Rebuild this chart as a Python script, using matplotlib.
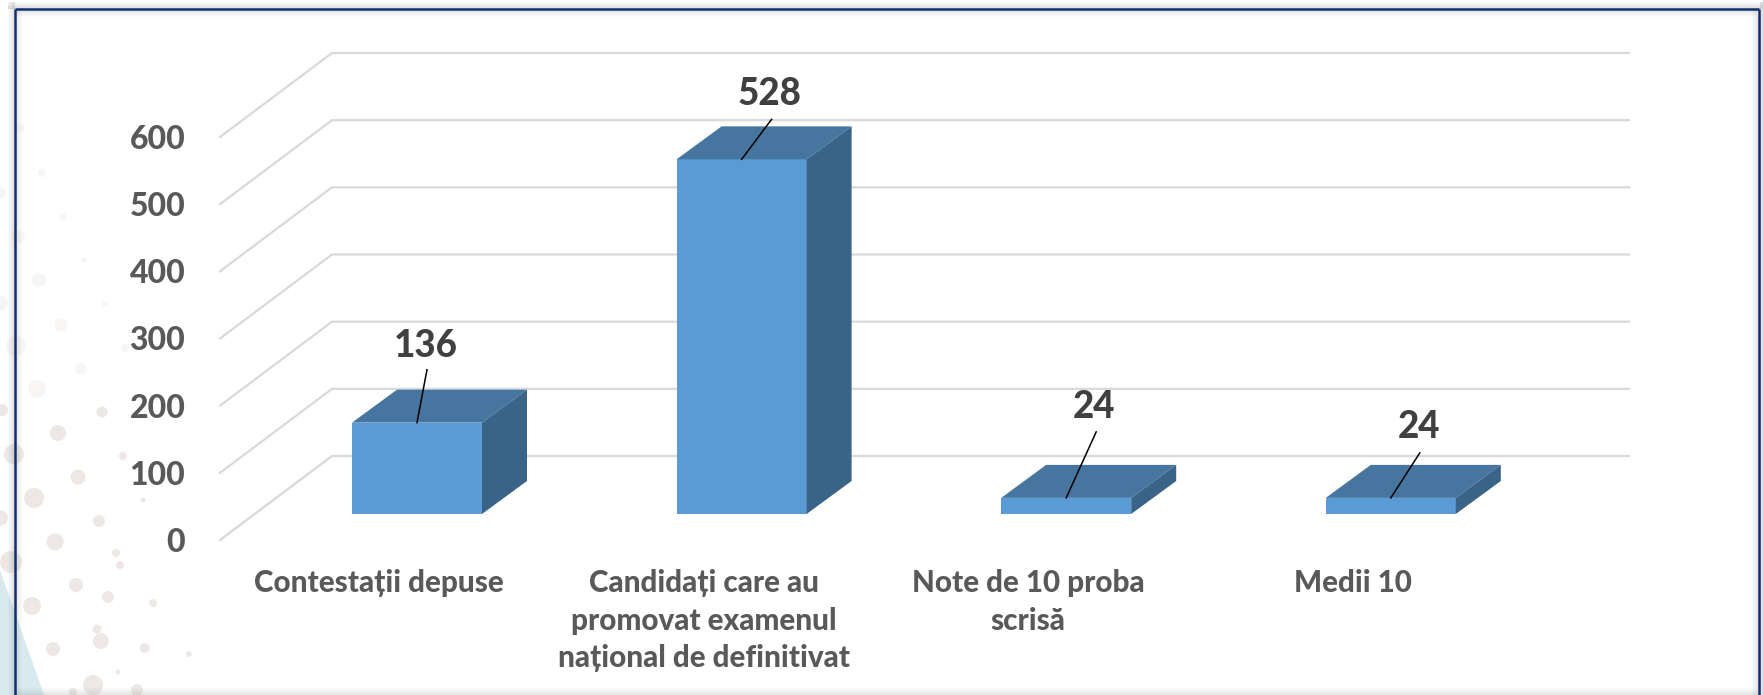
import matplotlib
matplotlib.use("Agg")
import matplotlib.pyplot as plt
from matplotlib.patches import Polygon, Rectangle, Circle

plt.rcParams['font.family'] = ['Lato', 'Noto Sans', 'DejaVu Sans']

categories = ["Contestații depuse",
              "Candidați care au\npromovat examenul\nnațional de definitivat",
              "Note de 10 proba\nscrisă",
              "Medii 10"]
values = [136, 528, 24, 24]
value_labels = ["136", "528", "24", "24"]
y_ticks = [0, 100, 200, 300, 400, 500, 600]

# style / geometry (pixels)
W, H = 1763, 695
AX_L, AX_R, AX_B, AX_T = 220, 1629, 540, 137
CAT0, CAT_STEP = 379, 324.6
PX_X = CAT_STEP
PX_Y = (AX_B - AX_T) / 600
WALL = (112, 84)
BAR_FRONT = (38, 26)
BAR_W = 130
BAR_D = (45, 33)
label_off = [(9, 77), (28, 65), (28, 91), (28, 71)]
leader_off = [(10, 53), (30, 40), (30, 66), (29, 45)]
FRONT, TOP, SIDE = '#5B9BD5', '#46769F', '#3A6487'
WEIGHT = 900

fig = plt.figure(figsize=(W / 100, H / 100), dpi=100, facecolor='white')

# background decoration, in pixels
bg = fig.add_axes([0, 0, 1, 1], zorder=0)
bg.set_xlim(0, W); bg.set_ylim(H, 0); bg.axis('off')
dots = [(21,128,4),(42,173,4),(63,217,3.5),(84,260,3),(105,304,3),(39,280,7),(61,325,6.5),
        (81,369,6),(37,389,9),(16,346,10),(18,237,7),(125,348,4),(0,303,8),(0,193,6),
        (102,412,5.5),(58,433,8),(14,454,10),(123,456,4),(78,477,7.5),(34,498,10),
        (143,500,2.5),(99,521,6),(0,518,8),(55,542,8.5),(116,553,4),(120,565,4),(11,562,11),
        (76,585,7),(108,597,6),(153,603,4),(32,606,9),(97,629,4.5),(101,641,8),(53,649,7),
        (145,648,5),(189,654,3),(118,672,2.5),(93,685,10),(137,690,6),(73,692,4),(2,410,6)]
bg.add_patch(Polygon([(0, 570), (44, 695), (0, 695)], fc='#D8EAEF', ec='none'))
for x, y, r in dots:
    a = 0.25 if y < 400 else 0.65
    bg.add_patch(Circle((x, y), r, fc='#E4DDDA', ec='none', alpha=a))
# shadow around frame
for i in range(7):
    a = 0.20 * (1 - i / 7)
    c = '#808080'
    bg.add_patch(Rectangle((15 + i, 9), 1, H, fc=c, ec='none', alpha=a))
    bg.add_patch(Rectangle((15, 10 + i), W - 21, 1, fc=c, ec='none', alpha=a))
    bg.add_patch(Rectangle((1758 - i, 9), 1, H, fc=c, ec='none', alpha=a))
    bg.add_patch(Rectangle((14 - i, 2), 1, H, fc=c, ec='none', alpha=a * 1.3))
    bg.add_patch(Rectangle((8, 8 - i), W - 8, 1, fc=c, ec='none', alpha=a * 1.3))
    bg.add_patch(Rectangle((1760 + i, 2), 1, H, fc=c, ec='none', alpha=a * 1.3))
    bg.add_patch(Rectangle((16, H - i - 1), 1742, 1, fc=c, ec='none', alpha=a))
bg.plot([15, 15], [9, H], color='#12306F', lw=1.8, solid_capstyle='butt')
bg.plot([15, 1759], [9, 9], color='#12306F', lw=1.8, solid_capstyle='butt')
bg.plot([1759, 1759], [9, H], color='#12306F', lw=1.8, solid_capstyle='butt')

# chart axes: the front floor plane; depth is added as a fixed oblique offset
ax = fig.add_axes([AX_L / W, 1 - AX_B / H, (AX_R - AX_L) / W, (AX_B - AX_T) / H], zorder=1)
ax.patch.set_alpha(0)
ax.set_xlim((AX_L - CAT0) / PX_X, (AX_R - CAT0) / PX_X)
ax.set_ylim(0, 600)
for s in ax.spines.values():
    s.set_visible(False)

def dx(px): return px / PX_X
def dy(px): return px / PX_Y

x_left = ax.get_xlim()[0]
x_right = ax.get_xlim()[1]
for v in y_ticks:
    ax.plot([x_left, x_left + dx(WALL[0]), x_right], [v, v + dy(WALL[1]), v + dy(WALL[1])],
            color='#D9D9D9', lw=1.6, clip_on=False, zorder=1, solid_joinstyle='miter')

for i, v in enumerate(values):
    x0 = i + dx(BAR_FRONT[0] - BAR_W / 2)
    x1 = x0 + dx(BAR_W)
    b = dy(BAR_FRONT[1])
    t = b + v
    ddx, ddy = dx(BAR_D[0]), dy(BAR_D[1])
    ax.add_patch(Polygon([(x0, b), (x1, b), (x1, t), (x0, t)], fc=FRONT, ec='none', zorder=3, clip_on=False))
    ax.add_patch(Polygon([(x0, t), (x1, t), (x1 + ddx, t + ddy), (x0 + ddx, t + ddy)], fc=TOP, ec='none', zorder=3, clip_on=False))
    ax.add_patch(Polygon([(x1, b), (x1 + ddx, b + ddy), (x1 + ddx, t + ddy), (x1, t)], fc=SIDE, ec='none', zorder=3, clip_on=False))
    xc = (x0 + x1) / 2
    lx, ly = leader_off[i]
    ax.plot([xc, xc + dx(lx)], [t, t + dy(ly)], color='black', lw=1.1, zorder=4, clip_on=False)
    tx, ty = label_off[i]
    ax.text(xc + dx(tx), t + dy(ty), value_labels[i], ha='center', va='center',
            fontsize=26.5, fontweight=WEIGHT, color='#404040', zorder=5, clip_on=False)

ax.set_yticks(y_ticks)
ax.set_xticks(range(len(categories)))
ax.set_xticklabels(categories, linespacing=1.42, multialignment='center')
ax.tick_params(axis='y', length=0, pad=25, labelsize=23, labelcolor='#595959')
ax.tick_params(axis='x', length=0, pad=21, labelsize=21.3, labelcolor='#595959')
for lab in ax.get_xticklabels() + ax.get_yticklabels():
    lab.set_fontweight(WEIGHT)

fig.savefig('out.png', dpi=100)
